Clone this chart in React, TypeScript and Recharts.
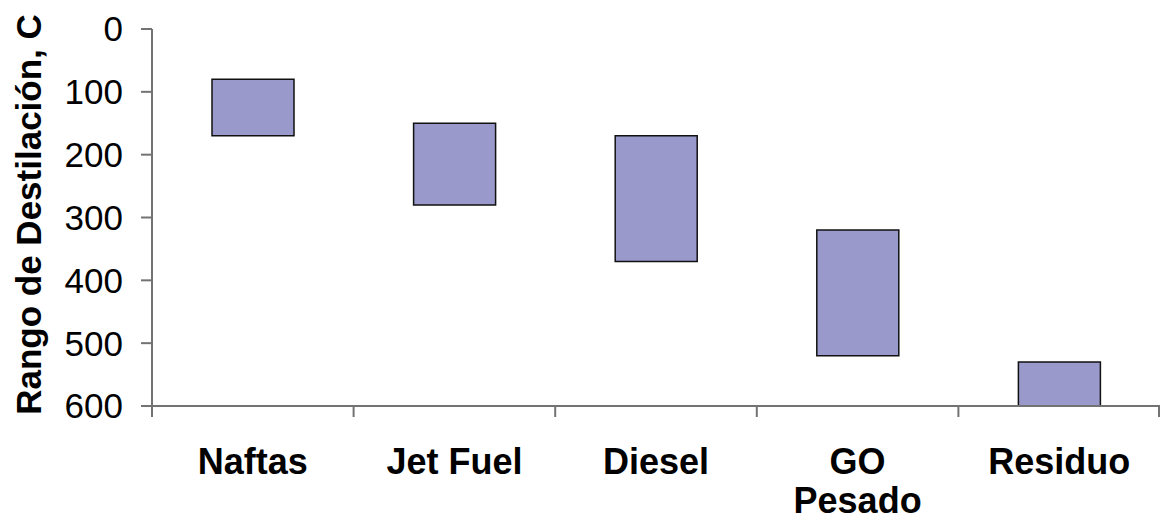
import { BarChart, Bar, XAxis, YAxis, Label } from "recharts";

// rango de destilacion por producto (C), de menor a mayor temperatura
const categories = ["Naftas", "Jet Fuel", "Diesel", "GO\nPesado", "Residuo"];
const lowTemps = [80, 150, 170, 320, 530];
const highTemps = [170, 280, 370, 520, 600];
const yTicks = [0, 100, 200, 300, 400, 500, 600];

const data = categories.map((name, i) => ({
    name,
    rango: [lowTemps[i], highTemps[i]],
}));

const W = 1160;
const H = 521;
const TICK = 11;
const AXIS_COLOR = "#737373";
const FONT = "'Liberation Sans', Arial, sans-serif";

const CategoryTick = (props: any) => {
    const { x, y, payload, index } = props;
    const half = payload && payload.offset ? payload.offset : (W - 152) / categories.length / 2;
    const lines = String(payload.value).split("\n");
    return (
        <g>
            <line x1={x - half} x2={x - half} y1={y - TICK} y2={y} stroke={AXIS_COLOR} strokeWidth={2} />
            {index === categories.length - 1 && (
                <line x1={x + half - 1} x2={x + half - 1} y1={y - TICK} y2={y} stroke={AXIS_COLOR} strokeWidth={2} />
            )}
            <text x={x} y={y} textAnchor="middle" fontFamily={FONT} fontWeight="bold" fontSize={36} fill="#000">
                {lines.map((l, i) => (
                    <tspan key={i} x={x} dy={i === 0 ? 57 : 39}>
                        {l}
                    </tspan>
                ))}
            </text>
        </g>
    );
};

export default function App() {
    return (
        <div style={{ position: "absolute", left: 0, top: 0, width: W, height: H, background: "#fff" }}>
            <BarChart width={W} height={H} data={data} margin={{ top: 29, right: 0, bottom: 0, left: 0 }}>
                <XAxis
                    dataKey="name"
                    height={115}
                    tickLine={false}
                    tickSize={TICK}
                    tickMargin={0}
                    interval={0}
                    tick={<CategoryTick />}
                    axisLine={{ stroke: AXIS_COLOR, strokeWidth: 2 }}
                />
                <YAxis
                    width={152}
                    reversed
                    domain={[0, 600]}
                    ticks={yTicks}
                    interval={0}
                    tickSize={TICK}
                    tickMargin={18}
                    tickLine={{ stroke: AXIS_COLOR, strokeWidth: 2 }}
                    axisLine={{ stroke: AXIS_COLOR, strokeWidth: 2 }}
                    tick={{ fill: "#000", fontSize: 35, fontFamily: FONT }}
                >
                    <Label
                        content={({ viewBox }: any) => {
                            const cx = viewBox.x + 28;
                            const cy = viewBox.y + viewBox.height / 2 - 3;
                            return (
                                <text
                                    x={cx}
                                    y={cy}
                                    transform={`rotate(-90, ${cx}, ${cy})`}
                                    textAnchor="middle"
                                    dominantBaseline="central"
                                    fontFamily={FONT}
                                    fontWeight="bold"
                                    fontSize={35}
                                    fill="#000"
                                >
                                    Rango de Destilación, C
                                </text>
                            );
                        }}
                    />
                </YAxis>
                <Bar dataKey="rango" barSize={82} fill="#9999cc" stroke="#111" strokeWidth={1.5} isAnimationActive={false} />
            </BarChart>
        </div>
    );
}
